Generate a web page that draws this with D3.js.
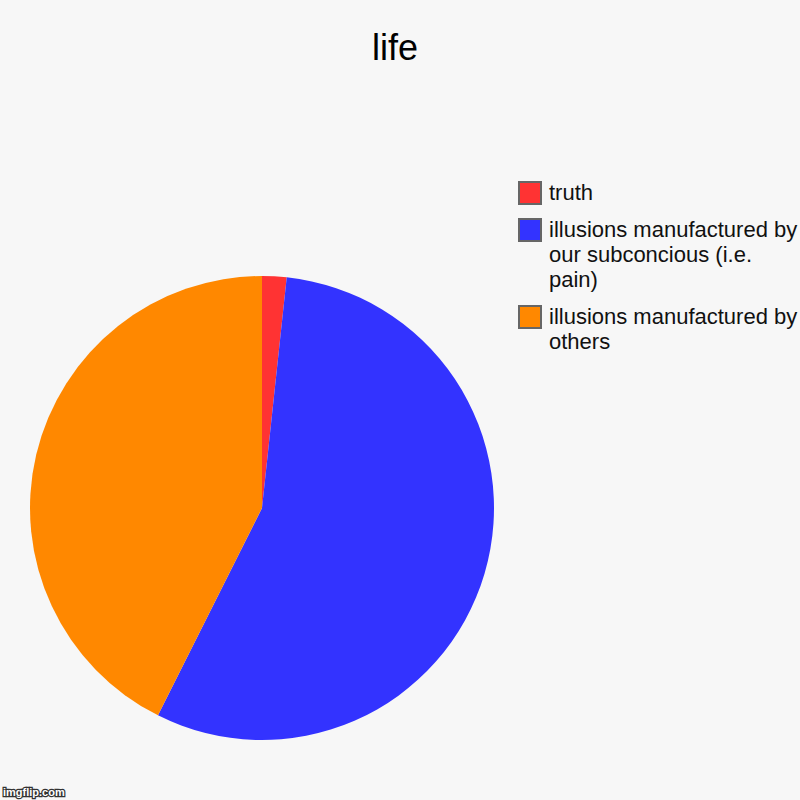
<!DOCTYPE html>
<html>
<head>
<meta charset="utf-8">
<script src="https://cdn.jsdelivr.net/npm/d3@7"></script>
<style>
  body { margin: 0; background: #f7f7f7; }
  svg { display: block; }
</style>
</head>
<body>
<script>
const w = 800;
const h = 800;

// slice data, clockwise from 12 o'clock
const labels = ["truth", "illusions manufactured by our subconcious (i.e. pain)", "illusions manufactured by others"];
const values = [1.7, 55.7, 42.6];
const colors = ["#ff3333", "#3333ff", "#ff8800"];
// legend text as wrapped in the picture
const legendLines = [["truth"], ["illusions manufactured by", "our subconcious (i.e.", "pain)"], ["illusions manufactured by", "others"]];

const svg = d3.select("body").append("svg")
  .attr("width", w)
  .attr("height", h)
  .style("font-family", "'Liberation Sans', Arial, sans-serif");

svg.append("rect").attr("width", w).attr("height", h).attr("fill", "#f7f7f7");

svg.append("text")
  .attr("x", 395)
  .attr("y", 60)
  .attr("text-anchor", "middle")
  .attr("font-size", 36)
  .attr("fill", "#000")
  .text("life");

const pie = d3.pie().sort(null).value(d => d)(values);
const arc = d3.arc().innerRadius(0).outerRadius(232);

svg.append("g")
  .attr("transform", "translate(262,508)")
  .selectAll("path")
  .data(pie)
  .join("path")
  .attr("d", arc)
  .attr("fill", (d, i) => colors[i]);

// legend
const tops = [181, 218, 305];
const legend = svg.append("g").selectAll("g")
  .data(labels)
  .join("g")
  .attr("transform", (d, i) => `translate(518,${tops[i]})`);

legend.append("rect")
  .attr("x", 1).attr("y", 1)
  .attr("width", 22).attr("height", 22)
  .attr("fill", (d, i) => colors[i])
  .attr("stroke", "#666")
  .attr("stroke-width", 2);

legend.append("text")
  .attr("x", 31)
  .attr("y", 19)
  .attr("font-size", 22)
  .attr("fill", "#111")
  .selectAll("tspan")
  .data((d, i) => legendLines[i])
  .join("tspan")
  .attr("x", 31)
  .attr("dy", (d, j) => j === 0 ? 0 : 25)
  .text(d => d);

// watermark
svg.append("text")
  .attr("x", 3)
  .attr("y", 796)
  .attr("font-size", 11)
  .attr("font-weight", "bold")
  .attr("fill", "#fff")
  .attr("stroke", "#333")
  .attr("stroke-width", 2.5)
  .attr("paint-order", "stroke")
  .text("imgflip.com");
</script>
</body>
</html>
